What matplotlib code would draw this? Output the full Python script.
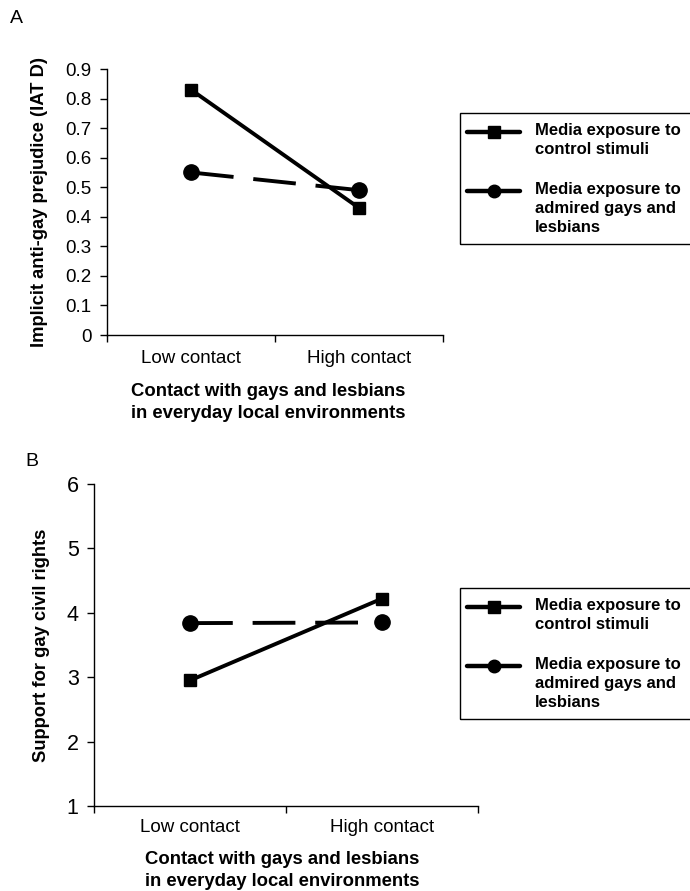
import matplotlib
matplotlib.use("Agg")
import matplotlib.pyplot as plt
from matplotlib.lines import Line2D
from matplotlib.patches import Rectangle
import numpy as np

plt.rcParams['font.family'] = ['Liberation Sans', 'DejaVu Sans']

categories = ['Low contact', 'High contact']
series_names = ['Media exposure to\ncontrol stimuli',
                'Media exposure to\nadmired gays and\nlesbians']
series_markers = ['s', 'o']

# panel A: implicit prejudice (IAT D)
a_control = [0.83, 0.43]
a_admired = [0.55, 0.49]
a_yticks = [0, 0.1, 0.2, 0.3, 0.4, 0.5, 0.6, 0.7, 0.8, 0.9]
a_yticklabels = ['0', '0.1', '0.2', '0.3', '0.4', '0.5', '0.6', '0.7', '0.8', '0.9']

# panel B: support for gay civil rights
b_control = [2.95, 4.22]
b_admired = [3.84, 3.85]
b_yticks = [1, 2, 3, 4, 5, 6]

xlabel = 'Contact with gays and lesbians\nin everyday local environments'

W, H = 690, 891
fig = plt.figure(figsize=(W / 100, H / 100), dpi=100)
LW = 2.8


def fx(px):
    return px / W


def fy(py):
    return 1 - py / H


def panel(rect, control, admired, yticks, ylim, ylab, ytick_size,
          ylab_x, xlab_pos, xpad):
    ax = fig.add_axes(rect)
    x = np.arange(len(categories))
    ax.plot(x, control, color='black', lw=LW, marker='s', ms=8,
            solid_capstyle='butt', zorder=3)
    ax.plot(x, admired, color='black', lw=LW, marker='o', ms=11,
            dashes=(11.0, 5.1), dash_capstyle='butt', zorder=3)
    ax.set_xlim(-0.5, len(categories) - 0.5)
    ax.set_ylim(*ylim)
    ax.set_xticks(np.arange(len(categories) + 1) - 0.5)
    ax.set_xticklabels([])
    ax.set_xticks(x, minor=True)
    ax.set_xticklabels(categories, minor=True, fontsize=13.5)
    ax.tick_params(axis='x', which='minor', length=0, pad=xpad)
    ax.tick_params(axis='x', which='major', length=5, width=1, direction='out')
    ax.set_yticks(yticks)
    ax.tick_params(axis='y', length=5, width=1, labelsize=ytick_size, pad=6)
    for s in ['top', 'right']:
        ax.spines[s].set_visible(False)
    for s in ['left', 'bottom']:
        ax.spines[s].set_linewidth(1)
    ax.set_ylabel(ylab, fontsize=13.2, fontweight='bold')
    ax.yaxis.set_label_coords(ylab_x, 0.5)
    ax.set_xlabel(xlabel, fontsize=13.3, fontweight='bold', linespacing=1.4)
    ax.xaxis.set_label_coords(*xlab_pos)
    return ax


axA = panel([fx(107), fy(335), fx(443 - 107), (335 - 69) / H],
            a_control, a_admired, a_yticks, (0, 0.9),
            'Implicit anti-gay prejudice (IAT D)', 13.5,
            -0.176, (0.48, -0.18), 11)
axA.set_yticklabels(a_yticklabels)

axB = panel([fx(94), fy(806), fx(478 - 94), (806 - 484) / H],
            b_control, b_admired, b_yticks, (1, 6),
            'Support for gay civil rights', 15.5,
            -0.115, (0.49, -0.14), 9)


def legend_box(top):
    # frame runs past the right edge of the figure, as in the reference
    fig.add_artist(Rectangle((fx(460), fy(top + 131)), fx(260), 131 / H,
                             transform=fig.transFigure, facecolor='none',
                             edgecolor='black', lw=1))
    rows = [top + 19, top + 78]
    for name, mk, row in zip(series_names, series_markers, rows):
        fig.add_artist(Line2D([fx(467), fx(520)], [fy(row), fy(row)],
                              transform=fig.transFigure, color='black',
                              lw=LW + 0.4, solid_capstyle='round'))
        fig.add_artist(Line2D([fx(493.5)], [fy(row)],
                              transform=fig.transFigure, color='black',
                              marker=mk, ms=9))
        fig.text(fx(535), fy(row - 9), name, fontsize=12, fontweight='bold',
                 ha='left', va='top', linespacing=1.32)


legend_box(113)
legend_box(588)

fig.text(fx(16.5), fy(18.5), 'A', fontsize=14, ha='center', va='center')
fig.text(fx(32), fy(462), 'B', fontsize=14, ha='center', va='center')

fig.savefig('out.png', dpi=100)
